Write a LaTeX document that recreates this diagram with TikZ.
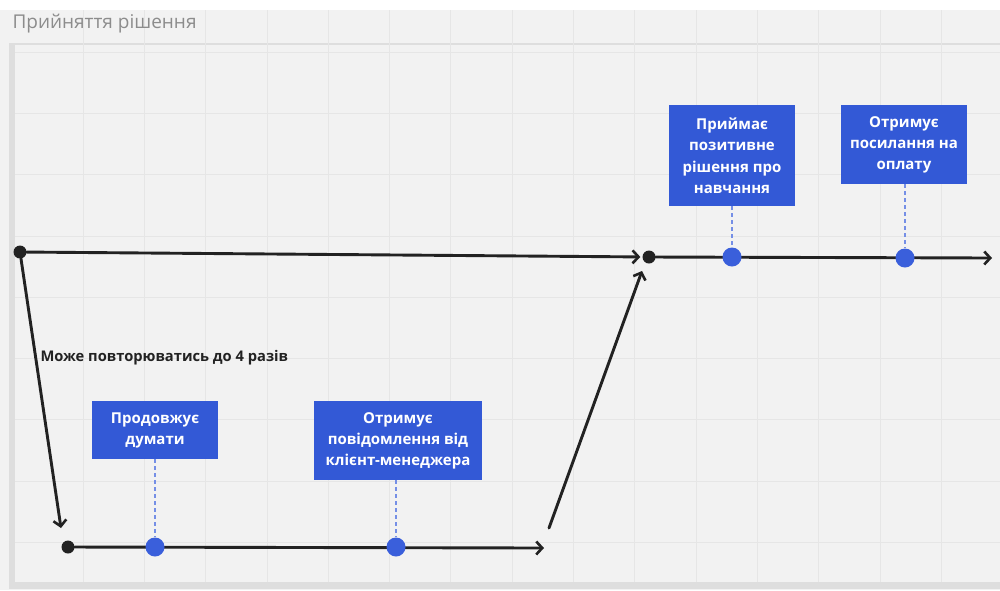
\documentclass[tikz,border=0pt]{standalone}
\usepackage{fontspec}
\setmainfont{Open Sans}
\usetikzlibrary{arrows.meta}

\definecolor{evtblue}{HTML}{3359D6}
\definecolor{dotblue}{HTML}{3A5FDB}
\definecolor{ink}{HTML}{222222}
\definecolor{gridgray}{HTML}{E6E6E6}
\definecolor{bggray}{HTML}{F2F2F2}
\definecolor{framegray}{HTML}{DEDEDE}

\tikzset{
  evt/.style={fill=evtblue, text=white, align=center, anchor=north,
    inner sep=0pt, font=\fontsize{15}{21.3}\selectfont\bfseries},
  pin/.style={circle, fill=dotblue, inner sep=0pt, minimum size=19pt},
  knot/.style={circle, fill=ink, inner sep=0pt, minimum size=13pt},
  flow/.style={ink, line width=2.9pt, line cap=round,
    -{Straight Barb[length=6pt,width=13pt,line width=2.6pt]}},
  leader/.style={dotblue!70, line width=1.2pt, dash pattern=on 4pt off 3pt},
}

\begin{document}
\begin{tikzpicture}[x=1pt,y=-1pt]
    \useasboundingbox (0,0) rectangle (1000,590);
    \fill[white] (0,0) rectangle (1000,10);
    \fill[bggray] (0,10) rectangle (1000,590);

    % panel and grid
    \fill[framegray] (9,43) rectangle (1000,589);
    \fill[bggray] (15,45) rectangle (1000,582);
    \foreach \gx in {0,...,15}
        \draw[gridgray, line width=0.8pt] ({83+61.3*\gx},10) -- ({83+61.3*\gx},582);
    \foreach \gy in {0,...,8}
        \draw[gridgray, line width=0.8pt] (15,{52+61.3*\gy}) -- (1000,{52+61.3*\gy});

    \node[anchor=west, text=black!45, font=\fontsize{19}{22}\selectfont]
        (ttl) at (9,24) {Прийняття рішення};

    % points on the lines
    \node[knot] (k1) at (20,252) {};
    \node[knot] (k2) at (649,257) {};
    \node[knot] (k3) at (68,547) {};
    \coordinate (e2) at (992,258);
    \coordinate (e3) at (544,548);
    \coordinate (d1) at (61,528);
    \coordinate (r0) at (549,528);
    \coordinate (r1) at (642,271);

    \draw[flow, shorten >=2pt] (k1) -- (k2);
    \draw[flow] (k2) -- (e2);
    \draw[flow] (k1) -- (d1);
    \draw[flow] (k3) -- (e3);
    \draw[flow] (r0) -- (r1);

    \node[anchor=west, text=ink, font=\fontsize{14.7}{17}\selectfont\bfseries]
        (rep) at (37,358) {Може повторюватись до 4 разів};

    % events
    \node[evt, minimum width=126pt, minimum height=58pt] (b1) at (155,401)
        {Продовжує\\думати};
    \node[evt, minimum width=168pt, minimum height=79pt] (b2) at (398,401)
        {Отримує\\повідомлення від\\клієнт-менеджера};
    \node[evt, minimum width=126pt, minimum height=101pt] (b3) at (732,105)
        {Приймає\\позитивне\\рішення про\\навчання};
    \node[evt, minimum width=126pt, minimum height=79pt] (b4) at (904,105)
        {Отримує\\посилання на\\оплату};

    \node[pin] (p1) at (155,547) {};
    \node[pin] (p2) at (396,547) {};
    \node[pin] (p3) at (732,257) {};
    \node[pin] (p4) at (905,258) {};

    \draw[leader] (b1.south) -- (b1.south |- p1.north);
    \draw[leader] (b2.south -| p2) -- (p2.north);
    \draw[leader] (b3.south) -- (b3.south |- p3.north);
    \draw[leader] (b4.south -| p4) -- (p4.north);
\end{tikzpicture}
\end{document}
